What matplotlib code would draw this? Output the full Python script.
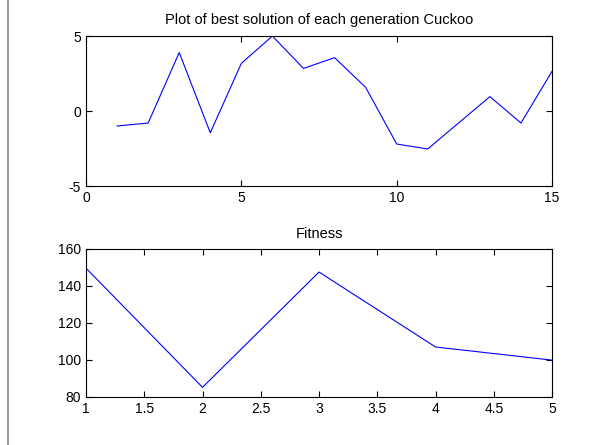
import numpy as np
import matplotlib
matplotlib.use('Agg')
import matplotlib.pyplot as plt
from matplotlib.lines import Line2D

# 每一代的最优解
gen = [1, 2, 3, 4, 5, 6, 7, 8, 9, 10, 11, 12, 13, 14, 15]
best = [-1.0, -0.8, 3.9, -1.45, 3.18, 5.0, 2.84, 3.56, 1.58, -2.2, -2.53, -0.78, 0.96, -0.8, 2.65]

# 适应度
fit_x = [1, 2, 3, 4, 5]
fitness = [149.6, 85.2, 147.5, 107.0, 99.9]

plt.rcParams['font.family'] = ['Liberation Sans', 'DejaVu Sans']
plt.rcParams['font.size'] = 10
plt.rcParams['axes.unicode_minus'] = False

fig = plt.figure(figsize=(5.99, 4.45), dpi=100)
fig.patch.set_facecolor('white')

# 左侧灰色边线
fig.add_artist(Line2D([7.5 / 599, 7.5 / 599], [0, 1], color='#7d838a', lw=1.2))

ax1 = fig.add_axes([0.1436, 0.582, 0.778, 0.337])
ax2 = fig.add_axes([0.1436, 0.108, 0.778, 0.3326])

ax1.plot(gen, best, color='blue', lw=0.8)
ax1.set_xlim(0, 15)
ax1.set_ylim(-5, 5)
ax1.set_xticks([0, 5, 10, 15])
ax1.set_yticks([-5, 0, 5])
ax1.set_title('Plot of best solution of each generation Cuckoo', fontsize=10.5, pad=9)

ax2.plot(fit_x, fitness, color='blue', lw=0.8)
ax2.set_xlim(1, 5)
ax2.set_ylim(80, 160)
ax2.set_xticks(np.arange(1, 5.01, 0.5))
ax2.set_xticklabels(['1', '1.5', '2', '2.5', '3', '3.5', '4', '4.5', '5'])
ax2.set_yticks([80, 100, 120, 140, 160])
ax2.set_title('Fitness', fontsize=10.5, pad=8)

for ax in (ax1, ax2):
    ax.tick_params(direction='in', length=4, width=0.8, top=True, right=True,
                   labelsize=10, pad=3.5)
    for s in ax.spines.values():
        s.set_linewidth(0.8)
        s.set_color('black')

plt.savefig('out.png', dpi=100)
